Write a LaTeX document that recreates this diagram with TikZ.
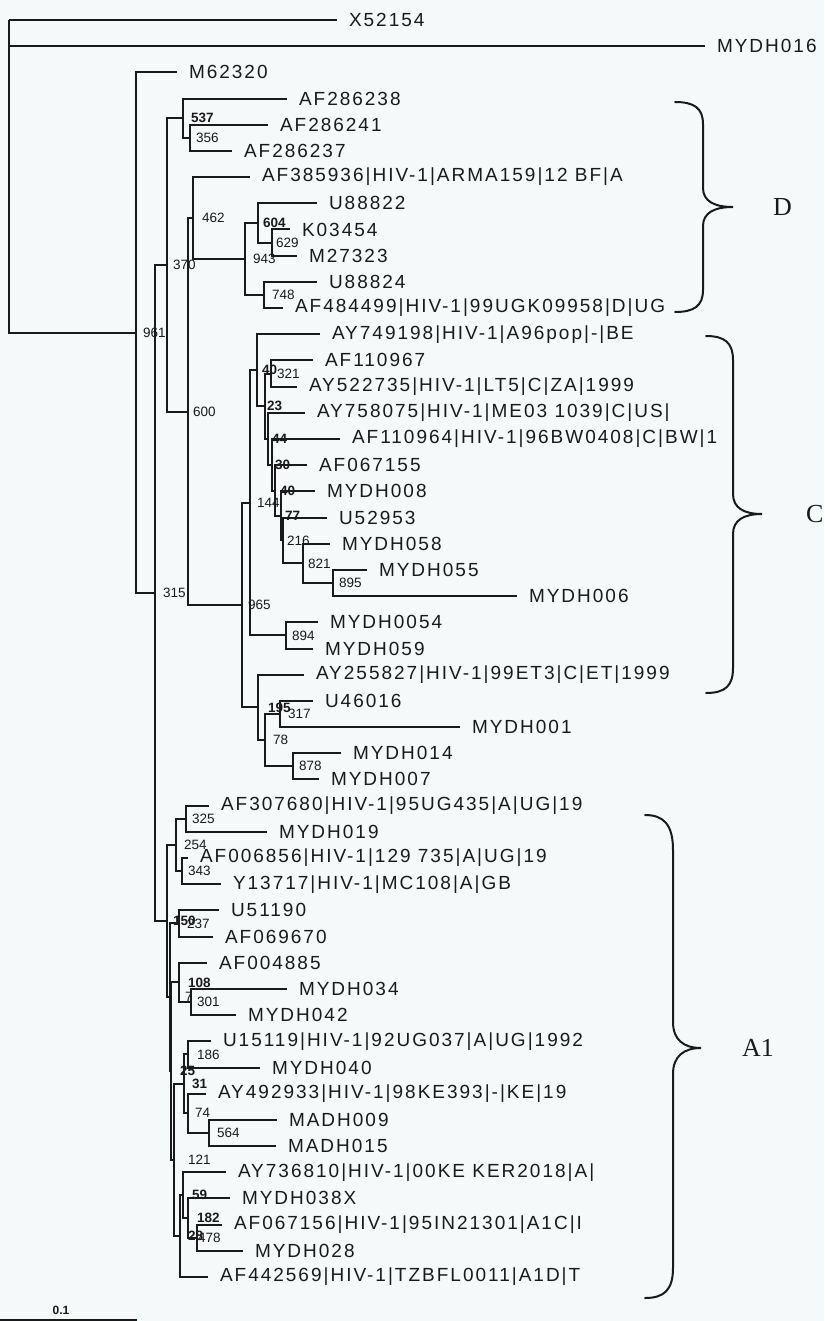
\documentclass[tikz,border=0pt]{standalone}
\usepackage{fontspec}
\setmainfont{Liberation Sans}
\newfontfamily\leaffont{Liberation Sans}[LetterSpace=10.5]
\newfontfamily\cladefont{Liberation Serif}
\usetikzlibrary{calc}
\definecolor{bgc}{RGB}{246,249,249}
\definecolor{ink}{RGB}{26,26,26}
\tikzset{
  leaf/.style={anchor=west, inner xsep=12pt, inner ysep=0pt, outer sep=0pt, text=ink,
    font=\leaffont\fontsize{19}{22}\selectfont},
  bsl/.style={anchor=west, inner sep=0pt, text=ink, font=\fontsize{13.5}{15}\selectfont},
  bsb/.style={anchor=west, inner sep=0pt, text=ink, font=\bfseries\fontsize{13.5}{15}\selectfont},
  branch/.style={draw=ink, line width=2pt},
  bracepath/.style={draw=ink, line width=2pt, line cap=round},
  cladelab/.style={anchor=west, inner sep=0pt, text=ink, font=\cladefont\fontsize{26}{30}\selectfont},
  scalelab/.style={inner sep=0pt, text=ink, font=\bfseries\fontsize{12}{14}\selectfont}
}
% leaf: name, row index, branch end x, text
\newcommand\lf[4]{\node[leaf] (#1) at (#3,{20+26.1875*#2}) {#4};}
% internal node: name, x of vertical, first child, last child
\newcommand\inode[4]{\path let \p1=(#3), \p2=(#4) in (#2pt,{0.5*\y1+0.5*\y2}) coordinate (#1);}
% branch to internal node / to leaf
\newcommand\br[2]{\draw[branch] (#1) |- (#2);}
\newcommand\bl[2]{\draw[branch] (#1) |- (#2.west);}
% support label: node, text, x offset, style
\newcommand\bs[4]{\node[#4] (b#1) at ([xshift=#3pt]#1) {#2};}
\begin{document}
\begin{tikzpicture}[x=1pt,y=-1pt]
\useasboundingbox (0,0) rectangle (824,1321);
\fill[bgc] (0,0) rectangle (824,1321);

% ---------- leaves ----------
\lf{X52154}{0}{337}{X52154}
\lf{MYDH016}{1}{705}{MYDH016}
\lf{M62320}{2}{177}{M62320}
\lf{AF286238}{3}{287}{AF286238}
\lf{AF286241}{4}{268}{AF286241}
\lf{AF286237}{5}{232}{AF286237}
\lf{AF385936}{6}{250}{AF385936|HIV-1|ARMA159|12 BF|A}
\lf{U88822}{7}{317}{U88822}
\lf{K03454}{8}{290}{K03454}
\lf{M27323}{9}{297}{M27323}
\lf{U88824}{10}{317}{U88824}
\lf{AF484499}{11}{283}{AF484499|HIV-1|99UGK09958|D|UG}
\lf{AY749198}{12}{320}{AY749198|HIV-1|A96pop|-|BE}
\lf{AF110967}{13}{313}{AF110967}
\lf{AY522735}{14}{297}{AY522735|HIV-1|LT5|C|ZA|1999}
\lf{AY758075}{15}{305}{AY758075|HIV-1|ME03 1039|C|US|}
\lf{AF110964}{16}{340}{AF110964|HIV-1|96BW0408|C|BW|1}
\lf{AF067155}{17}{307}{AF067155}
\lf{MYDH008}{18}{315}{MYDH008}
\lf{U52953}{19}{327}{U52953}
\lf{MYDH058}{20}{330}{MYDH058}
\lf{MYDH055}{21}{367}{MYDH055}
\lf{MYDH006}{22}{517}{MYDH006}
\lf{MYDH0054}{23}{318}{MYDH0054}
\lf{MYDH059}{24}{313}{MYDH059}
\lf{AY255827}{25}{304}{AY255827|HIV-1|99ET3|C|ET|1999}
\lf{U46016}{26}{313}{U46016}
\lf{MYDH001}{27}{460}{MYDH001}
\lf{MYDH014}{28}{341}{MYDH014}
\lf{MYDH007}{29}{319}{MYDH007}
\lf{AF307680}{30}{209}{AF307680|HIV-1|95UG435|A|UG|19}
\lf{MYDH019}{31}{267}{MYDH019}
\lf{AF006856}{32}{188}{AF006856|HIV-1|129 735|A|UG|19}
\lf{Y13717}{33}{221}{Y13717|HIV-1|MC108|A|GB}
\lf{U51190}{34}{219}{U51190}
\lf{AF069670}{35}{213}{AF069670}
\lf{AF004885}{36}{207}{AF004885}
\lf{MYDH034}{37}{287}{MYDH034}
\lf{MYDH042}{38}{236}{MYDH042}
\lf{U15119}{39}{211}{U15119|HIV-1|92UG037|A|UG|1992}
\lf{MYDH040}{40}{260}{MYDH040}
\lf{AY492933}{41}{206}{AY492933|HIV-1|98KE393|-|KE|19}
\lf{MADH009}{42}{277}{MADH009}
\lf{MADH015}{43}{276}{MADH015}
\lf{AY736810}{44}{226}{AY736810|HIV-1|00KE KER2018|A|}
\lf{MYDH038X}{45}{230}{MYDH038X}
\lf{AF067156}{46}{222}{AF067156|HIV-1|95IN21301|A1C|I}
\lf{MYDH028}{47}{243}{MYDH028}
\lf{AF442569}{48}{208}{AF442569|HIV-1|TZBFL0011|A1D|T}

% ---------- internal nodes (bottom-up) ----------
\inode{n356}{190}{AF286241}{AF286237}
\inode{n537}{183}{AF286238}{n356}
\inode{n629}{272}{K03454}{M27323}
\inode{n604}{258}{U88822}{n629}
\inode{n748}{264}{U88824}{AF484499}
\inode{n943}{245}{n604}{n748}
\inode{n462}{193}{AF385936}{n943}
\inode{n895}{333}{MYDH055}{MYDH006}
\inode{n821}{303}{MYDH058}{n895}
\inode{n216}{283}{U52953}{n821}
\inode{n77}{281}{MYDH008}{n216}
\inode{n40b}{275}{AF067155}{n77}
\inode{n30}{272}{AF110964}{n40b}
\inode{n44}{268}{AY758075}{n30}
\inode{n321}{271}{AF110967}{AY522735}
\inode{n23}{265}{n321}{n44}
\inode{n40a}{257}{AY749198}{n23}
\inode{n894}{286}{MYDH0054}{MYDH059}
\inode{n144}{250}{n40a}{n894}
\inode{n317}{280}{U46016}{MYDH001}
\inode{n878}{293}{MYDH014}{MYDH007}
\inode{n78}{265}{n317}{n878}
\inode{n195}{258}{AY255827}{n78}
\inode{n965}{242}{n144}{n195}
\inode{n600}{188}{n462}{n965}
\inode{n370}{167}{n537}{n600}
\inode{n325}{186}{AF307680}{MYDH019}
\inode{n343}{182}{AF006856}{Y13717}
\inode{n254}{176}{n325}{n343}
\inode{n237}{179}{U51190}{AF069670}
\inode{n301}{191}{MYDH034}{MYDH042}
\inode{n108}{179}{AF004885}{n301}
\inode{n186}{188}{U15119}{MYDH040}
\inode{n564}{209}{MADH009}{MADH015}
\inode{n74}{188}{AY492933}{n564}
\inode{n31}{184}{n186}{n74}
\inode{n478}{197}{AF067156}{MYDH028}
\inode{n182}{188}{MYDH038X}{n478}
\inode{n59}{183}{AY736810}{n182}
\inode{n28}{180}{n59}{AF442569}
\inode{n121}{174}{n31}{n28}
\inode{n25}{171}{n108}{n121}
\inode{nX}{170}{n237}{n25}
\inode{n150}{167}{n254}{nX}
\inode{n315}{155}{n370}{n150}
\inode{n961}{136}{M62320}{n315}
\coordinate (root) at (9,20);

% ---------- branches ----------
\bl{root}{X52154} \bl{root}{MYDH016} \br{root}{n961}
\bl{n961}{M62320} \br{n961}{n315}
\br{n315}{n370} \br{n315}{n150}
\br{n370}{n537} \br{n370}{n600}
\bl{n537}{AF286238} \br{n537}{n356}
\bl{n356}{AF286241} \bl{n356}{AF286237}
\br{n600}{n462} \br{n600}{n965}
\bl{n462}{AF385936} \br{n462}{n943}
\br{n943}{n604} \br{n943}{n748}
\bl{n604}{U88822} \br{n604}{n629}
\bl{n629}{K03454} \bl{n629}{M27323}
\bl{n748}{U88824} \bl{n748}{AF484499}
\br{n965}{n144} \br{n965}{n195}
\br{n144}{n40a} \br{n144}{n894}
\bl{n40a}{AY749198} \br{n40a}{n23}
\br{n23}{n321} \br{n23}{n44}
\bl{n321}{AF110967} \bl{n321}{AY522735}
\bl{n44}{AY758075} \br{n44}{n30}
\bl{n30}{AF110964} \br{n30}{n40b}
\bl{n40b}{AF067155} \br{n40b}{n77}
\bl{n77}{MYDH008} \br{n77}{n216}
\bl{n216}{U52953} \br{n216}{n821}
\bl{n821}{MYDH058} \br{n821}{n895}
\bl{n895}{MYDH055} \bl{n895}{MYDH006}
\bl{n894}{MYDH0054} \bl{n894}{MYDH059}
\bl{n195}{AY255827} \br{n195}{n78}
\br{n78}{n317} \br{n78}{n878}
\bl{n317}{U46016} \bl{n317}{MYDH001}
\bl{n878}{MYDH014} \bl{n878}{MYDH007}
\br{n150}{n254} \br{n150}{nX}
\br{n254}{n325} \br{n254}{n343}
\bl{n325}{AF307680} \bl{n325}{MYDH019}
\bl{n343}{AF006856} \bl{n343}{Y13717}
\br{nX}{n237} \br{nX}{n25}
\bl{n237}{U51190} \bl{n237}{AF069670}
\br{n25}{n108} \br{n25}{n121}
\bl{n108}{AF004885} \br{n108}{n301}
\bl{n301}{MYDH034} \bl{n301}{MYDH042}
\br{n121}{n31} \br{n121}{n28}
\br{n31}{n186} \br{n31}{n74}
\bl{n186}{U15119} \bl{n186}{MYDH040}
\bl{n74}{AY492933} \br{n74}{n564}
\bl{n564}{MADH009} \bl{n564}{MADH015}
\br{n28}{n59} \bl{n28}{AF442569}
\bl{n59}{AY736810} \br{n59}{n182}
\bl{n182}{MYDH038X} \br{n182}{n478}
\bl{n478}{AF067156} \bl{n478}{MYDH028}

% ---------- support values ----------
\bs{n961}{961}{7}{bsl}
\bs{n315}{315}{8}{bsl}
\bs{n370}{370}{6}{bsl}
\bs{n537}{537}{8}{bsb}
\bs{n356}{356}{6}{bsl}
\bs{n462}{462}{9}{bsl}
\bs{n600}{600}{5}{bsl}
\bs{n943}{943}{8}{bsl}
\bs{n604}{604}{5}{bsb}
\bs{n629}{629}{4}{bsl}
\bs{n748}{748}{8}{bsl}
\bs{n40a}{40}{5}{bsb}
\bs{n321}{321}{6}{bsl}
\bs{n23}{23}{2}{bsb}
\bs{n44}{44}{4}{bsb}
\bs{n30}{30}{3}{bsb}
\bs{n40b}{40}{5}{bsb}
\bs{n144}{144}{7}{bsl}
\bs{n77}{77}{4}{bsb}
\bs{n216}{216}{4}{bsl}
\bs{n821}{821}{5}{bsl}
\bs{n895}{895}{6}{bsl}
\bs{n965}{965}{6}{bsl}
\bs{n894}{894}{6}{bsl}
\bs{n195}{195}{10}{bsb}
\bs{n317}{317}{8}{bsl}
\bs{n78}{78}{8}{bsl}
\bs{n878}{878}{6}{bsl}
\bs{n325}{325}{6}{bsl}
\bs{n254}{254}{8}{bsl}
\bs{n343}{343}{6}{bsl}
\bs{n150}{150}{6}{bsb}
\bs{n237}{237}{8}{bsl}
\bs{nX}{7}{15}{bsl}
\bs{n108}{108}{9}{bsb}
\bs{n301}{301}{6}{bsl}
\bs{n186}{186}{9}{bsl}
\bs{n25}{25}{9}{bsb}
\bs{n31}{31}{8}{bsb}
\bs{n74}{74}{7}{bsl}
\bs{n564}{564}{8}{bsl}
\bs{n121}{121}{14}{bsl}
\bs{n59}{59}{9}{bsb}
\bs{n182}{182}{9}{bsb}
\bs{n28}{28}{8}{bsb}
\bs{n478}{478}{1}{bsl}

% ---------- clade braces ----------
\draw[bracepath] (675,102) .. controls (694,102) and (703,108) .. (703,124) -- (703,188)
  .. controls (703,201) and (714,207) .. (733,207) .. controls (714,207) and (703,213) .. (703,226)
  -- (703,290) .. controls (703,306) and (694,312) .. (675,312);
\node[cladelab] (cladeD) at (773,207) {D};

\draw[bracepath] (706,336) .. controls (725,336) and (733,343) .. (733,360) -- (733,494)
  .. controls (733,508) and (744,514) .. (762,514) .. controls (744,514) and (733,520) .. (733,534)
  -- (733,668) .. controls (733,686) and (725,693) .. (706,693);
\node[cladelab] (cladeC) at (806,514) {C};

\draw[bracepath] (645,815) .. controls (664,815) and (673,825) .. (673,850) -- (673,1022)
  .. controls (673,1040) and (684,1048) .. (701,1048) .. controls (684,1048) and (673,1056) .. (673,1074)
  -- (673,1268) .. controls (673,1290) and (664,1298) .. (645,1298);
\node[cladelab] (cladeA) at (742,1048) {A1};

% ---------- scale bar ----------
\coordinate (sbL) at (0,1319.5);
\coordinate (sbR) at (137,1319.5);
\draw[branch] (sbL) -- (sbR);
\node[scalelab] (sbtext) at (61,1310) {0.1};
\end{tikzpicture}
\end{document}
